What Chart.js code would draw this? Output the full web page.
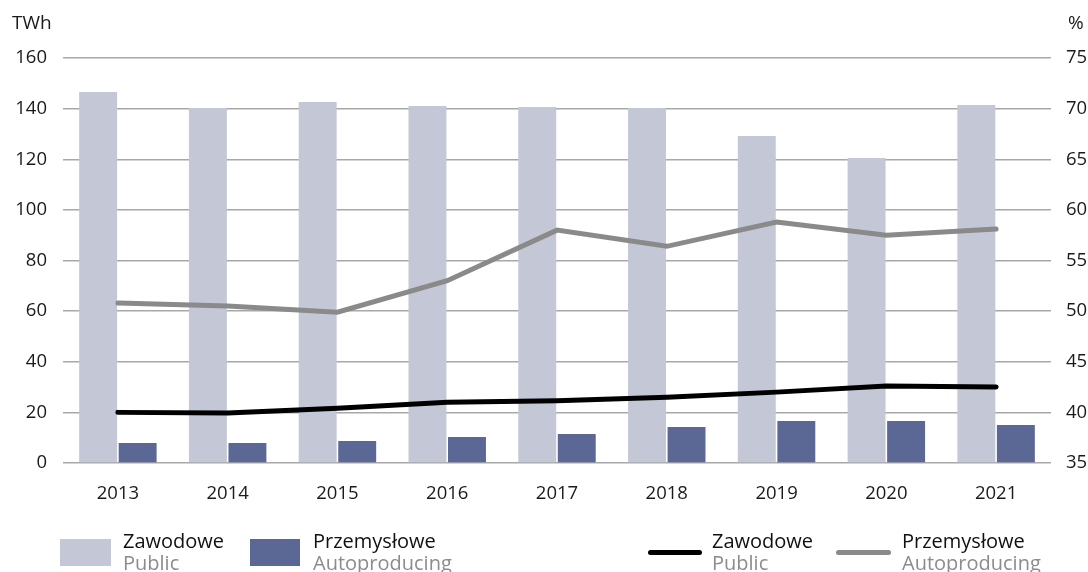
<!DOCTYPE html>
<html>
<head>
<meta charset="utf-8">
<script src="https://cdn.jsdelivr.net/npm/chart.js@4"></script>
<style>
  body { margin: 0; background: #fff; font-family: "Open Sans", sans-serif; }
  #wrap { position: relative; width: 1088px; height: 572px; overflow: hidden; }
  #wrap canvas { position: absolute; left: 0; top: 0; }
  .unit { position: absolute; font-size: 19px; color: #1a1a1a; line-height: 22px; }
  .sw { position: absolute; }
  .txt { position: absolute; font-size: 20px; line-height: 22px; color: #111; white-space: nowrap; }
  .txt span { display: block; color: #8c8c8c; }
</style>
</head>
<body>
<div id="wrap">
  <canvas id="energyChart" width="1088" height="572"></canvas>
  <div class="unit" style="left:12px;top:11px">TWh</div>
  <div class="unit" style="left:1068px;top:11px">%</div>

  <div class="sw" style="left:60px;top:539px;width:51px;height:27px;background:#c4c7d6"></div>
  <div class="txt" style="left:123px;top:530px">Zawodowe<span>Public</span></div>
  <div class="sw" style="left:250px;top:539px;width:50px;height:27px;background:#5b6895"></div>
  <div class="txt" style="left:313px;top:530px">Przemysłowe<span>Autoproducing</span></div>

  <div class="sw" style="left:648px;top:550px;width:54px;height:5px;border-radius:3px;background:#000"></div>
  <div class="txt" style="left:712px;top:530px">Zawodowe<span>Public</span></div>
  <div class="sw" style="left:836px;top:550px;width:55px;height:5px;border-radius:3px;background:#8a8a8a"></div>
  <div class="txt" style="left:902px;top:530px">Przemysłowe<span>Autoproducing</span></div>
</div>
<script>
  // dane z wykresu
  const years = ['2013', '2014', '2015', '2016', '2017', '2018', '2019', '2020', '2021'];
  const publicTWh = [146.6, 140.2, 142.6, 141.0, 140.6, 140.2, 129.2, 120.5, 141.4];
  const autoTWh = [7.9, 7.9, 8.7, 10.3, 11.5, 14.2, 16.6, 16.6, 15.0];
  const publicPct = [40.0, 39.95, 40.4, 41.0, 41.15, 41.5, 42.0, 42.6, 42.5];
  const autoPct = [50.8, 50.5, 49.9, 53.0, 58.0, 56.4, 58.8, 57.5, 58.1];

  const tickFont = { family: '"Open Sans", sans-serif', size: 18.5 };
  const tickColor = '#1a1a1a';

  const ctx = document.getElementById('energyChart').getContext('2d');
  const chart = new Chart(ctx, {
    type: 'bar',
    data: {
      labels: years,
      datasets: [
        { type: 'line', label: 'Zawodowe %', data: publicPct, yAxisID: 'y1', borderColor: '#000', borderWidth: 5,
          pointRadius: 0, borderCapStyle: 'round', borderJoinStyle: 'miter', tension: 0, fill: false, order: 0 },
        { type: 'line', label: 'Przemysłowe %', data: autoPct, yAxisID: 'y1', borderColor: '#8a8a8a', borderWidth: 5,
          pointRadius: 0, borderCapStyle: 'round', borderJoinStyle: 'miter', tension: 0, fill: false, order: 0 },
        { label: 'Zawodowe', data: publicTWh, yAxisID: 'y', backgroundColor: '#c4c7d6',
          categoryPercentage: 0.72, barPercentage: 0.96, order: 1 },
        { label: 'Przemysłowe', data: autoTWh, yAxisID: 'y', backgroundColor: '#5b6895',
          categoryPercentage: 0.72, barPercentage: 0.96, order: 1 }
      ]
    },
    options: {
      responsive: false,
      animation: false,
      layout: { padding: { top: 58, left: 0, right: 0, bottom: 0 } },
      plugins: { legend: { display: false }, tooltip: { enabled: false } },
      scales: {
        x: {
          grid: { display: false },
          border: { display: false },
          ticks: { font: tickFont, color: tickColor, padding: 12, maxRotation: 0 },
          afterFit: s => { s.height = 109; }
        },
        y: {
          position: 'left', min: 0, max: 160,
          ticks: { stepSize: 20, font: tickFont, color: tickColor, padding: 16 },
          grid: { color: '#a8a8a8', lineWidth: 1.5, drawTicks: false },
          border: { display: false },
          afterFit: s => { s.width = 63; }
        },
        y1: {
          position: 'right', min: 35, max: 75,
          ticks: { stepSize: 5, font: tickFont, color: tickColor, padding: 15 },
          grid: { display: false, drawTicks: false },
          border: { display: false },
          afterFit: s => { s.width = 37; }
        }
      }
    }
  });
</script>
</body>
</html>
